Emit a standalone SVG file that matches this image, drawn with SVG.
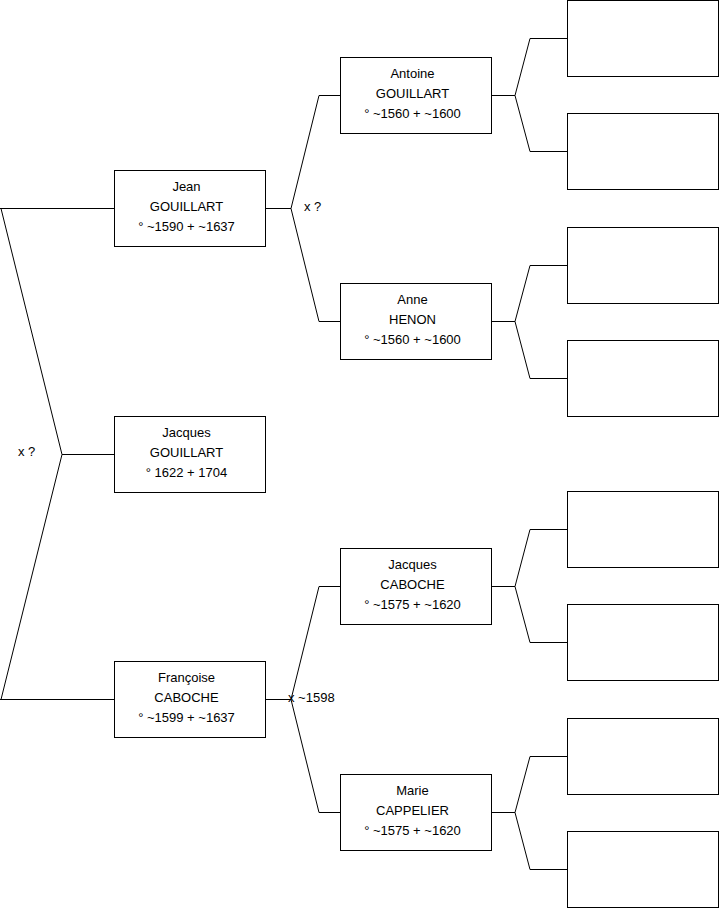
<svg xmlns="http://www.w3.org/2000/svg" width="719" height="908" viewBox="0 0 719 908">
<style>
.box{fill:#fff;stroke:#000;stroke-width:1}
.ln{fill:none;stroke:#000;stroke-width:1}
text{font-family:"Liberation Sans",Arial,sans-serif;font-size:13px;fill:#000}
.c{text-anchor:middle}
</style>
<rect width="719" height="908" fill="#fff"/>
<g id="connectors">
<polyline class="ln" points="114,208.5 0,208.5"/>
<polyline class="ln" points="1,208.5 62,454.5 1,699.5"/>
<polyline class="ln" points="62,454.5 114,454.5"/>
<polyline class="ln" points="0,699.5 114,699.5"/>
<polyline class="ln" points="265.5,208.5 291,208.5"/>
<polyline class="ln" points="340,95.5 319,95.5 291,208.5 319,321.5 340,321.5"/>
<polyline class="ln" points="265.5,699.5 291,699.5"/>
<polyline class="ln" points="340,586.5 319,586.5 291,699.5 319,812.5 340,812.5"/>
<polyline class="ln" points="491.5,95.5 515,95.5"/>
<polyline class="ln" points="567,38.5 530,38.5 515,95.5 530,151.5 567,151.5"/>
<polyline class="ln" points="491.5,321.5 515,321.5"/>
<polyline class="ln" points="567,265.5 530,265.5 515,321.5 530,378.5 567,378.5"/>
<polyline class="ln" points="491.5,586.5 515,586.5"/>
<polyline class="ln" points="567,529.5 530,529.5 515,586.5 530,642.5 567,642.5"/>
<polyline class="ln" points="491.5,812.5 515,812.5"/>
<polyline class="ln" points="567,756.5 530,756.5 515,812.5 530,869.5 567,869.5"/>
<text x="18" y="456">x ?</text>
<text x="304" y="211">x ?</text>
<text x="288" y="702">x ~1598</text>
</g>
<g id="jean">
<rect class="box" x="114.5" y="170.5" width="151" height="76"/>
<text class="c" x="186.5" y="191">Jean</text>
<text class="c" x="186.5" y="211">GOUILLART</text>
<text class="c" x="186.5" y="231">° ~1590 + ~1637</text>
</g>
<g id="jacques-gouillart">
<rect class="box" x="114.5" y="416.5" width="151" height="76"/>
<text class="c" x="186.5" y="437">Jacques</text>
<text class="c" x="186.5" y="457">GOUILLART</text>
<text class="c" x="186.5" y="477">° 1622 + 1704</text>
</g>
<g id="francoise">
<rect class="box" x="114.5" y="661.5" width="151" height="76"/>
<text class="c" x="186.5" y="682">Françoise</text>
<text class="c" x="186.5" y="702">CABOCHE</text>
<text class="c" x="186.5" y="722">° ~1599 + ~1637</text>
</g>
<g id="antoine">
<rect class="box" x="340.5" y="57.5" width="151" height="76"/>
<text class="c" x="412.5" y="78">Antoine</text>
<text class="c" x="412.5" y="98">GOUILLART</text>
<text class="c" x="412.5" y="118">° ~1560 + ~1600</text>
</g>
<g id="anne">
<rect class="box" x="340.5" y="283.5" width="151" height="76"/>
<text class="c" x="412.5" y="304">Anne</text>
<text class="c" x="412.5" y="324">HENON</text>
<text class="c" x="412.5" y="344">° ~1560 + ~1600</text>
</g>
<g id="jacques-caboche">
<rect class="box" x="340.5" y="548.5" width="151" height="76"/>
<text class="c" x="412.5" y="569">Jacques</text>
<text class="c" x="412.5" y="589">CABOCHE</text>
<text class="c" x="412.5" y="609">° ~1575 + ~1620</text>
</g>
<g id="marie">
<rect class="box" x="340.5" y="774.5" width="151" height="76"/>
<text class="c" x="412.5" y="795">Marie</text>
<text class="c" x="412.5" y="815">CAPPELIER</text>
<text class="c" x="412.5" y="835">° ~1575 + ~1620</text>
</g>
<g id="blank1"><rect class="box" x="567.5" y="0.5" width="151" height="76"/></g>
<g id="blank2"><rect class="box" x="567.5" y="113.5" width="151" height="76"/></g>
<g id="blank3"><rect class="box" x="567.5" y="227.5" width="151" height="76"/></g>
<g id="blank4"><rect class="box" x="567.5" y="340.5" width="151" height="76"/></g>
<g id="blank5"><rect class="box" x="567.5" y="491.5" width="151" height="76"/></g>
<g id="blank6"><rect class="box" x="567.5" y="604.5" width="151" height="76"/></g>
<g id="blank7"><rect class="box" x="567.5" y="718.5" width="151" height="76"/></g>
<g id="blank8"><rect class="box" x="567.5" y="831.5" width="151" height="76"/></g>
</svg>
